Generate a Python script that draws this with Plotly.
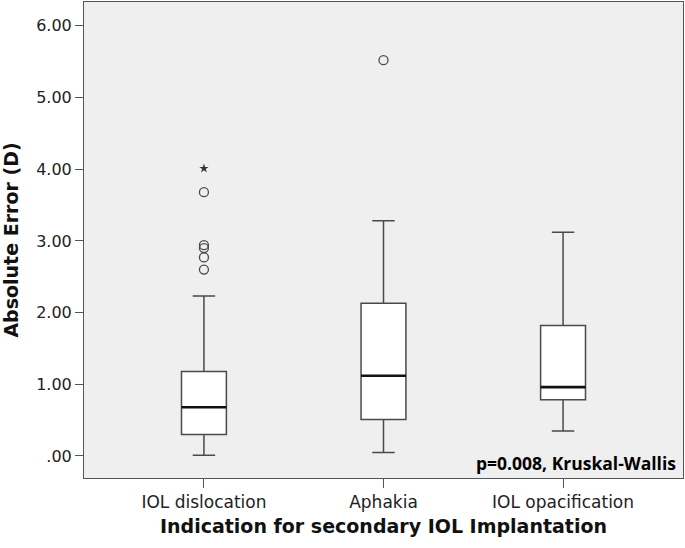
import plotly.graph_objects as go

categories = ["IOL dislocation", "Aphakia", "IOL opacification"]
lower_fence = [0.01, 0.05, 0.35]
q1 = [0.30, 0.51, 0.785]
median = [0.68, 1.12, 0.96]
q3 = [1.18, 2.13, 1.82]
upper_fence = [2.23, 3.28, 3.12]

outlier_cat = ["IOL dislocation"] * 5 + ["Aphakia"]
outlier_val = [3.68, 2.94, 2.90, 2.77, 2.60, 5.52]
extreme_cat = ["IOL dislocation"]
extreme_val = [4.01]

ytick_vals = [0, 1, 2, 3, 4, 5, 6]
ytick_text = [".00", "1.00", "2.00", "3.00", "4.00", "5.00", "6.00"]

line_col = "#4a4a4a"
fig = go.Figure()
fig.add_trace(go.Box(
    x=categories, q1=q1, median=median, q3=q3,
    lowerfence=lower_fence, upperfence=upper_fence,
    width=0.25, whiskerwidth=0.5, fillcolor="white",
    line=dict(color=line_col, width=1.5), boxpoints=False, showlegend=False,
    hoverinfo="skip"))
# thicker median lines
fig.add_trace(go.Box(
    x=categories, q1=median, median=median, q3=median,
    lowerfence=median, upperfence=median,
    width=0.25, whiskerwidth=0, fillcolor="rgba(0,0,0,0)",
    line=dict(color="#111111", width=2.6), boxpoints=False, showlegend=False,
    hoverinfo="skip"))
fig.add_trace(go.Scatter(
    x=outlier_cat, y=outlier_val, mode="markers",
    marker=dict(symbol="circle-open", size=9, color=line_col, line=dict(width=1.3)),
    showlegend=False))
fig.add_trace(go.Scatter(
    x=extreme_cat, y=extreme_val, mode="markers",
    marker=dict(symbol="star", size=7, color="#333333", line=dict(width=0)),
    showlegend=False))

fig.add_annotation(
    text="<b>p=0.008, Kruskal-Wallis</b>", xref="paper", yref="paper",
    x=0.9917, y=0.0315, xanchor="right", yanchor="middle", showarrow=False,
    font=dict(family="Open Sans", size=17.5, color="black"))

fig.update_layout(
    width=685, height=548,
    margin=dict(l=84, r=2, t=2, b=70, autoexpand=False),
    paper_bgcolor="white", plot_bgcolor="#efefef",
    font=dict(family="DejaVu Sans", color="#222222"),
    xaxis=dict(
        range=[-0.668, 2.668], type="category", automargin=False,
        showline=True, mirror=True, linecolor="#555555", linewidth=1,
        ticks="outside", ticklen=9, tickcolor="#555555",
        tickfont=dict(size=17, color="#222222"),
        title=dict(text="<b>Indication for secondary IOL Implantation</b>",
                   font=dict(size=19, color="#111111"), standoff=8),
        showgrid=False, zeroline=False),
    yaxis=dict(
        range=[-0.307, 6.332], tickvals=ytick_vals, ticktext=ytick_text,
        automargin=False,
        showline=True, mirror=True, linecolor="#555555", linewidth=1,
        ticks="outside", ticklen=8, tickcolor="#555555",
        tickfont=dict(size=16, color="#222222"),
        title=dict(text="<b>Absolute Error (D)</b>",
                   font=dict(size=19, color="#111111"), standoff=14),
        showgrid=False, zeroline=False),
)

fig.write_html("out.html", config={"displayModeBar": False},
               post_script="document.body.style.margin='0';document.body.style.overflow='hidden';")
